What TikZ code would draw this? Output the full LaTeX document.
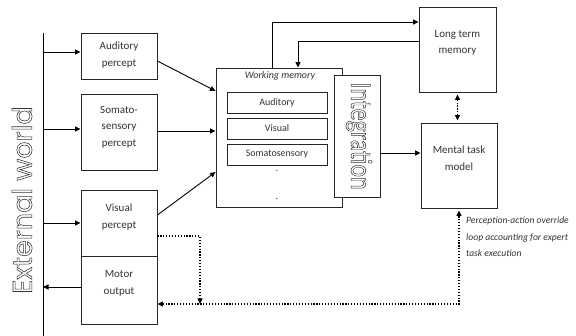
\documentclass[tikz,border=0pt]{standalone}
\usepackage{fontspec}
\setmainfont{Carlito}
\newfontfamily\geofont{Poppins}
\usetikzlibrary{arrows.meta,calc}
\tikzset{
  >={Triangle[length=5.5pt,width=5pt]},
  box/.style={draw=black!85, line width=0.9pt, fill=white, inner sep=0pt},
  lbl/.style={font=\fontsize{11}{16.5}\selectfont, align=center, inner sep=0pt, text=black!80},
  small/.style={font=\fontsize{10}{16}\selectfont, align=center, inner sep=0pt, text=black!80},
  arr/.style={line width=0.9pt, ->},
  plain/.style={line width=0.9pt},
  dots/.style={line width=1.3pt, dash pattern=on 1.2pt off 1.7pt},
}
\newcommand{\outl}[1]{\special{pdf:code q 1 Tr 0.55 w 0.2 G}#1\special{pdf:code Q}}
\begin{document}
\begin{tikzpicture}[x=1pt,y=-1pt]
\useasboundingbox (0,0) rectangle (576,336);
% external world line
\coordinate (extT) at (43,33);
\coordinate (extB) at (43,336);
\draw[plain] (extT) -- (extB);
\node[rotate=90, inner sep=0pt] (ext) at (22,200) {\geofont\fontsize{27}{30}\selectfont\outl{External world}};
% percept boxes
\node[box, minimum width=76, minimum height=46] (aud) at (119,56) {};
\node[box, minimum width=76, minimum height=76] (som) at (119,132) {};
\node[box, minimum width=76, minimum height=66] (vis) at (119,223) {};
\node[box, minimum width=76, minimum height=68] (mot) at (119,290) {};
\node[lbl] (audt) at (119,55) {Auditory\\percept};
\node[lbl] (somt) at (119,127) {Somato-\\sensory\\percept};
\node[lbl] (vist) at (119,217) {Visual\\percept};
\node[lbl] (mott) at (119,283.5) {Motor\\output};
% working memory
\node[box, minimum width=126, minimum height=139] (wm) at (279,137.5) {};
\node[small, font=\fontsize{10}{12}\selectfont\itshape] (wmt) at (280,76) {Working memory};
\node[box, line width=0.8pt, minimum width=100, minimum height=21] (wa) at (277,102.5) {};
\node[box, line width=0.8pt, minimum width=100, minimum height=21] (wv) at (277,128.5) {};
\node[box, line width=0.8pt, minimum width=100, minimum height=21] (ws) at (277,154.5) {};
\node[small] (wat) at (277,102.5) {Auditory};
\node[small] (wvt) at (277,128.5) {Visual};
\node[small] (wst) at (277,154.5) {Somatosensory};
\node[small] (d1) at (277,171) {.};
\node[small] (d2) at (277,199) {.};
\node[box, minimum width=46, minimum height=122] (integ) at (357,136) {};
\node[rotate=-90, inner sep=0pt] (integt) at (359,136) {\scalebox{0.8}[1]{\fontsize{30}{32}\selectfont\outl{Integration}}};
% long term memory and mental task model
\node[box, minimum width=77, minimum height=85] (ltm) at (457.5,49.5) {};
\node[lbl] (ltmt) at (457.5,43) {Long term\\memory};
\node[box, minimum width=76, minimum height=85] (mtm) at (459,165.5) {};
\node[lbl] (mtmt) at (459,158) {Mental task\\model};
\node[anchor=north west, inner sep=0pt, align=left, font=\fontsize{9.6}{16.5}\selectfont\itshape, text=black!80] (note) at (466,217) {Perception-action override\\loop accounting for expert\\task execution};
% helper coordinates
\coordinate (a1) at ([yshift=4pt]aud.west);
\coordinate (s1) at ([yshift=3pt]som.west);
\coordinate (m1) at ([yshift=3pt]mot.west);
\coordinate (s2) at ([yshift=1pt]som.east);
\coordinate (i1) at ([yshift=-17pt]integ.east);
\coordinate (ltmb) at ([yshift=-2pt]ltm.south);
\coordinate (vdrop) at (200,304);
% connectors from external world
\draw[arr] (extT |- a1) -- (a1);
\draw[arr] (extT |- s1) -- (s1);
\draw[arr] (extT |- vis.west) -- (vis.west);
\draw[arr] (m1) -- (extT |- m1);
% percepts to working memory
\draw[arr] ([yshift=-5pt]aud.east) -- ([yshift=46.5pt]wm.west);
\draw[arr] (s2) -- (s2 -| wm.west);
\draw[arr] ([yshift=8pt]vis.east) -- ([yshift=-34.5pt]wm.west);
% working memory <-> long term memory
\draw[arr] ([xshift=-7pt]wm.north) |- ([yshift=27.5pt]ltm.west);
\draw[arr] ([yshift=8.5pt]ltm.west) -| ([xshift=19pt]wm.north);
% integration to mental task model
\draw[arr] (i1) -- (i1 -| mtm.west);
% LTM <-> MTM
\draw[dots, <->] (ltmb) -- ([yshift=2pt]ltmb |- mtm.north);
% perception-action loops
\draw[dots, ->] ([yshift=-13pt]vis.east) -| (vdrop);
\draw[dots, <->] ([yshift=-14pt]mot.east) -| ([yshift=-2pt]mtm.south);
\end{tikzpicture}
\end{document}
